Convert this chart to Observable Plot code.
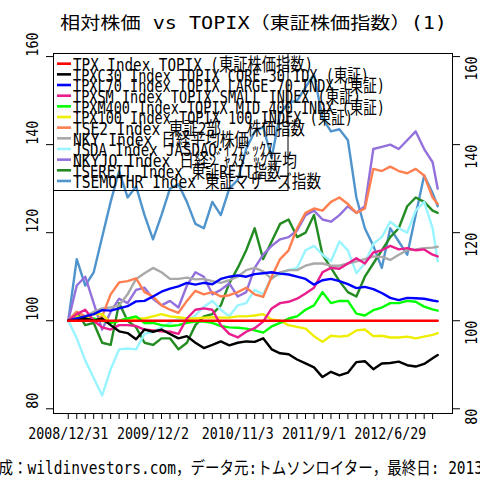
<!DOCTYPE html>
<html><head><meta charset="utf-8">
<script src="https://cdn.jsdelivr.net/npm/d3@7"></script>
<script src="https://cdn.jsdelivr.net/npm/@observablehq/plot@0.6"></script>
<style>
html,body{margin:0;padding:0;background:#fff;}
#chart{width:480px;height:480px;overflow:hidden;}
</style></head><body><div id="chart"></div>
<script>
// x positions in tick units (one axis tick = one step)
const t = [0,1,2,3,4,5,6,7,8,9,10,11,12,13,14,15,16,17,18,19,20,21,22,23,24,25,26,27,28,29,30,31,32,33,34,35,36,37,38,39,40,41,42,43,43.6];

const tpx      = [100,100,100,100,100,100,100,100,100,100,100,100,100,100,100,100,100,100,100,100,100,100,100,100,100,100,100,100,100,100,100,100,100,100,100,100,100,100,100,100,100,100,100,100,100];
const tpxc30   = [100,100,100.5,100,100.5,99,97.6,97.2,95.8,98,97.5,98,97,96,96.5,95,93.8,94.5,95.3,94.4,95,95.3,95.2,96,93.5,92.6,92.4,91.2,90.3,89.4,87.2,88.4,87.6,88.2,90.6,90.8,89,90.3,90.4,90.7,89.9,89.6,90.2,91.5,92.2];
const tpxl70   = [100,100.5,101,101.5,102.4,102.3,102.8,103.3,104.4,104.5,105.5,106.6,107.3,107.8,108.6,108.2,108.6,108.3,109.5,110,110.3,110,110.6,110.8,111,110.7,110.5,110,109.5,108.2,109.2,109.5,109,108.3,107.4,107.7,107.2,106.3,105.2,104.7,105.2,105.1,105,104.6,104.4];
const tpxsm    = [100,101.5,102.5,100,98.5,98,99,99,98.8,98,97.8,97.6,97.5,97,100.5,102.5,102.8,102.5,99,97,96.2,97.5,98.3,99.8,102.8,104,104.3,105,106.2,107.5,111,112,111.8,113,114.2,113,115.5,116,117,116.2,116.5,116,116.2,115,114.6];
const tpxm400  = [100,100.5,100,100.5,100,99.5,100,100.5,101,99.5,99.5,99,98.8,99,99.5,99.8,99.8,99.5,98.8,98.5,98.4,98.2,97.8,97.3,98.7,99.5,100.5,101,102.5,103.5,106.5,104,104.5,104.5,101.6,101.2,102.4,103,104,104,104.5,104.3,103.2,102.6,102.3];
const tpx100   = [100,101,100.5,101.5,101.5,99.5,100,100.5,100.5,100.5,101,101.5,101,100.8,100.5,100.5,100.7,100.8,100.7,100.7,101,101,101.2,101.5,100.3,100,99,98.6,98.2,96.5,95.2,96.6,96.4,96.6,97.8,98,96.5,96.6,96.2,96.2,96.4,96,96.4,96.8,97.2];
const tse2     = [100,102,101,100,101,106,108.7,109,109.6,106.5,105.5,103.5,102.5,101.8,104.5,106.8,106,106.5,105.5,105.8,106.5,107.5,106,105.4,110,114,116,121,124.5,125.5,125,127,128,126.5,124.5,125.5,134.5,134,135,134,133.5,134.5,133,128,126.5];
const nky      = [100,100.5,101,102,102.8,103,103.5,106,109.5,110.8,112,111,109.5,109.5,109.8,109.4,109.5,109,108.6,109.2,110,111.5,112,111.2,109.5,111,111.5,111.5,112.5,113,113,112.5,112.5,113,113.5,114,114.6,114.5,113.8,115,116,116.2,116.5,116.6,116.8];
const jsda     = [100,96,91,87,83,89,93.5,93.7,93.5,97,97.5,98.5,99.5,100.5,100,101.2,103.2,104.5,102.5,101,103.5,104,107,106,110,110.5,111.5,112,116,117,115,113.5,118,116,110.8,113,117.5,119,122.5,121,120,125,127,121,113.5];
const nkyjq    = [100,108,110,104,98,102,105,104,107,107.5,105,103.5,104.5,103,108,111,110,106,107,108.5,105.5,106.5,112,115,117,118.5,119,120.5,124,125,123,122.5,124,126,124.5,126,139,139.5,140,139,141,143,139,136,130];
const tsereit  = [100,102,99,99.5,95,94.5,104,100,98.5,95,94.5,96,96,93.5,95,99,101,101.5,103.5,108.5,112,116,121,114,118,122,123,119,120,124,115,112,109,106.5,105.5,110,113,116,119,121,126,128,127,125,124.5];
const tsemothr = [100,114,108,111,119,127,134,128,130.5,124,118.5,124,130,131,127,122,121,127,124,130,132,139,143,144,137,147,149.5,150,153,156,146,143,143.5,141,128,121,117,112,121,118,115,124,133,129,126];

const seriesNames = [
  "TPX Index TOPIX (東証株価指数)",
  "TPXC30 Index TOPIX CORE 30 IDX (東証)",
  "TPXL70 Index TOPIX LARGE 70 INDX (東証)",
  "TPXSM Index TOPIX SMALL INDEX (東証)",
  "TPXM400 Index TOPIX MID 400 INDX (東証)",
  "TPX100 Index TOPIX 100 INDEX (東証)",
  "TSE2 Index 東証2部   株価指数",
  "NKY Index 日経平均株価",
  "JSDA Index JASDAQ･ｲﾝﾃﾞｯｸｽ",
  "NKYJQ Index 日経ｼﾞｬｽﾀﾞｯｸ平均",
  "TSEREIT Index 東証REIT指数",
  "TSEMOTHR Index 東証マザーズ指数"
];
const seriesColors = ["#ff0000","#000000","#0000ff","#e91e8c","#00ff00","#eeee00","#ff7f50","#a9a9a9","#98f5ff","#9370db","#228b22","#4f94cd"];
const seriesValues = [tpx,tpxc30,tpxl70,tpxsm,tpxm400,tpx100,tse2,nky,jsda,nkyjq,tsereit,tsemothr];

const xTickCount = 44;
const xTickLabels = ["2008/12/31","2009/12/2","2010/11/3","2011/9/1","2012/6/29"];
const xTickLabelAt = [0,10,20,29,38];
const yTicks = [80,100,120,140,160];
const titleText = "相対株価 vs TOPIX（東証株価指数）(1)";
const captionText = "作成：wildinvestors.com，データ元:トムソンロイター，最終日: 2013/1/8";

const FONT = "'DejaVu Sans Mono','Noto Sans CJK JP',sans-serif";

const rows = [];
seriesValues.forEach((vals, s) => vals.forEach((v, i) => rows.push({s, t: t[i], v})));

const lineMarks = d3.range(seriesValues.length).reverse().map(s =>
  Plot.line(rows.filter(r => r.s === s), {x: "t", y: "v", stroke: seriesColors[s], strokeWidth: 2.4})
);

const labelAt = new Map(xTickLabelAt.map((p, i) => [p, xTickLabels[i]]));
const tMax = t[t.length - 1];
const pad = tMax * 0.04;

const plot = Plot.plot({
  width: 480, height: 480,
  marginLeft: 53, marginRight: 28, marginTop: 53, marginBottom: 67,
  style: {fontFamily: FONT, fontSize: "15px", background: "#fff", color: "#000"},
  x: {domain: [-pad, tMax + pad], label: null},
  y: {domain: [78.93, 160.7], label: null},
  marks: [
    ...lineMarks,
    Plot.axisX(d3.range(xTickCount), {anchor: "bottom", label: null, tickSize: 6, tickPadding: 8.5, fontSize: 15,
      tickFormat: d => labelAt.get(d) ?? ""}),
    Plot.axisY(yTicks, {anchor: "left", label: null, tickSize: 7, tickFormat: () => ""}),
    Plot.axisY(yTicks, {anchor: "right", label: null, tickSize: 7, tickFormat: () => ""}),
    Plot.text(yTicks, {y: d => d, text: d => String(d), frameAnchor: "left", dx: -20.5, rotate: -90, fontSize: 15}),
    Plot.text(yTicks, {y: d => d, text: d => String(d), frameAnchor: "right", dx: 20, rotate: -90, fontSize: 15}),
    Plot.frame({stroke: "#000"})
  ]
});

function cells(s) {
  let n = 0;
  for (const ch of s) {
    const c = ch.codePointAt(0);
    n += (c < 0x2000 || (c >= 0xff61 && c <= 0xff9f)) ? 1 : 2;
  }
  return n;
}
function fit(node, len) {
  node.setAttribute("textLength", len);
  node.setAttribute("lengthAdjust", "spacingAndGlyphs");
}

const svg = d3.select(plot);
svg.selectAll('g[aria-label="x-axis tick label"] text').each(function() { fit(this, 8 * cells(this.textContent)); });
svg.selectAll('g[aria-label="text"] text').each(function() { fit(this, 8 * cells(this.textContent)); });

// title
const title = svg.append("text").attr("x", 253.5).attr("y", 28.5).attr("text-anchor", "middle")
  .attr("font-size", 17).attr("fill", "#000").text(titleText);
fit(title.node(), 387);

// caption (overflows the page as in the reference)
const cap = svg.append("text").attr("x", 251).attr("y", 474).attr("text-anchor", "middle")
  .attr("font-size", 17).attr("fill", "#000").text(captionText);
fit(cap.node(), 534);

// legend
const lg = svg.append("g").attr("text-anchor", "start");
lg.append("rect").attr("x", 53.5).attr("y", 53.5).attr("width", 234.5).attr("height", 137)
  .attr("fill", "none").attr("stroke", "#000");
seriesNames.forEach((name, i) => {
  const y = 63.7 + i * 10.66;
  lg.append("line").attr("x1", 57).attr("x2", 71).attr("y1", y).attr("y2", y)
    .attr("stroke", seriesColors[i]).attr("stroke-width", 2.6);
  const tx = lg.append("text").attr("x", 73).attr("y", y + 7.4).attr("font-size", 18)
    .attr("text-anchor", "start").attr("fill", "#000").text(name);
  fit(tx.node(), 8 * cells(name));
});

document.getElementById("chart").appendChild(plot);
</script>
</body></html>
